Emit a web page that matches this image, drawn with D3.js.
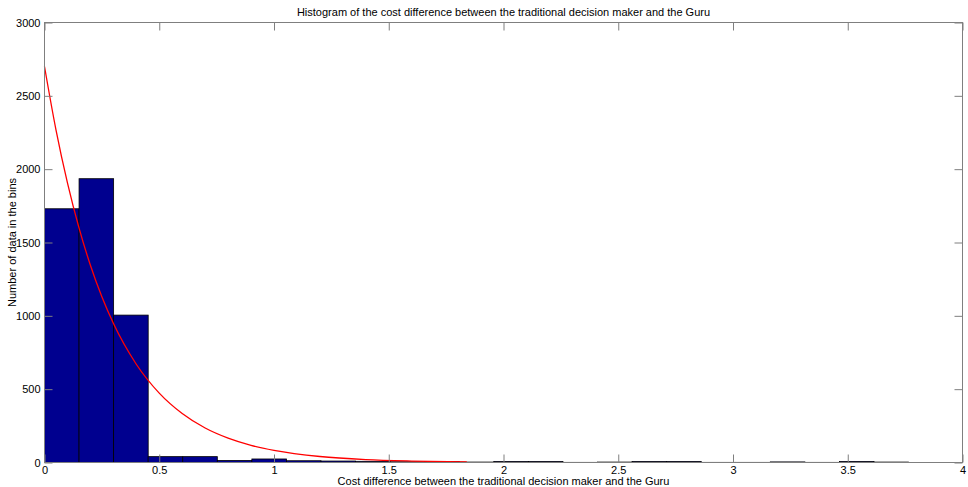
<!DOCTYPE html>
<html>
<head>
<meta charset="utf-8">
<script src="https://cdn.jsdelivr.net/npm/d3@7"></script>
<style>
  body { margin: 0; background: #fff; }
  svg { display: block; font-family: "Liberation Sans", Arial, sans-serif; }
  .tick text { font-size: 11px; fill: #000; }
</style>
</head>
<body>
<div id="chart"></div>
<script>
// histogram bins (25 equal bins from 0 to ~3.765)
var binStart = 0,
	binWidth = 0.1506;
var binCounts = [1730, 1935, 1005, 40, 40, 14, 24, 12, 10, 8, 5, 7, 3, 7, 7, 1, 3, 7, 7, 1, 1, 4, 1, 7, 3];

// fitted red curve
var fitX = [0, 0.05, 0.1, 0.15, 0.2, 0.25, 0.3, 0.4, 0.5, 0.6, 0.7, 0.8, 0.9, 1.0, 1.2, 1.4, 1.6, 1.84];
var fitY = [2700, 2268, 1906, 1601, 1345, 1130, 949, 670, 473, 334, 235, 166, 117, 83, 41, 20, 10, 4];

var xTicks = [0, 0.5, 1, 1.5, 2, 2.5, 3, 3.5, 4],
	yTicks = [0, 500, 1000, 1500, 2000, 2500, 3000];

var titleText = "Histogram of the cost difference between the traditional decision maker and the Guru",
	xLabel = "Cost difference between the traditional decision maker and the Guru",
	yLabel = "Number of data in the bins";

(function() {
	var width = 968,
		height = 487;
	var left = 44.5, right = 962.5, top = 22.5, bottom = 462.5;

	var svg = d3.select("#chart").append("svg")
		.attr("width", width)
		.attr("height", height);

	var x = d3.scaleLinear().domain([0, 4]).range([left, right]),
		y = d3.scaleLinear().domain([0, 3000]).range([bottom, top]);

	// bars
	svg.append("g").selectAll("rect")
		.data(binCounts)
		.enter().append("rect")
		.attr("x", function(d, i) { return x(binStart + i * binWidth); })
		.attr("width", function(d, i) { return x(binStart + (i + 1) * binWidth) - x(binStart + i * binWidth); })
		.attr("y", function(d) { return y(d); })
		.attr("height", function(d) { return y(0) - y(d); })
		.style("fill", "#00008f")
		.style("stroke", "#000")
		.style("stroke-width", 0.8);

	// fit line
	var line = d3.line()
		.x(function(d) { return x(d[0]); })
		.y(function(d) { return y(d[1]); })
		.curve(d3.curveMonotoneX);

	svg.append("path")
		.datum(d3.zip(fitX, fitY))
		.attr("d", line)
		.style("fill", "none")
		.style("stroke", "#ff0000")
		.style("stroke-width", 1.3);

	// axes with inward ticks on all four sides
	var tickLen = 8;
	function styleAxis(g) {
		g.select(".domain").remove();
		g.selectAll(".tick line").style("stroke", "#7f7f7f");
	}
	svg.append("g")
		.attr("transform", "translate(0," + bottom + ")")
		.call(d3.axisBottom(x).tickValues(xTicks).tickSizeInner(-tickLen).tickSizeOuter(0).tickPadding(4).tickFormat(d3.format("")))
		.call(styleAxis);
	svg.append("g")
		.attr("transform", "translate(0," + top + ")")
		.call(d3.axisTop(x).tickValues(xTicks).tickSizeInner(-tickLen).tickSizeOuter(0).tickFormat(""))
		.call(styleAxis);
	svg.append("g")
		.attr("transform", "translate(" + left + ",0)")
		.call(d3.axisLeft(y).tickValues(yTicks).tickSizeInner(-tickLen).tickSizeOuter(0).tickPadding(4).tickFormat(d3.format("")))
		.call(styleAxis);
	svg.append("g")
		.attr("transform", "translate(" + right + ",0)")
		.call(d3.axisRight(y).tickValues(yTicks).tickSizeInner(-tickLen).tickSizeOuter(0).tickFormat(""))
		.call(styleAxis);

	svg.selectAll(".tick text").style("font-size", "11px");

	// box
	svg.append("rect")
		.attr("x", left).attr("y", top)
		.attr("width", right - left).attr("height", bottom - top)
		.style("fill", "none")
		.style("stroke", "#7f7f7f")
		.style("stroke-width", 1);

	// labels
	svg.append("text")
		.attr("x", (left + right) / 2).attr("y", 16)
		.attr("text-anchor", "middle")
		.style("font-size", "11px")
		.text(titleText);
	svg.append("text")
		.attr("x", (left + right) / 2).attr("y", 485)
		.attr("text-anchor", "middle")
		.style("font-size", "11px")
		.text(xLabel);
	svg.append("text")
		.attr("transform", "translate(16," + (top + bottom) / 2 + ") rotate(-90)")
		.attr("text-anchor", "middle")
		.style("font-size", "11px")
		.text(yLabel);
})();
</script>
</body>
</html>
